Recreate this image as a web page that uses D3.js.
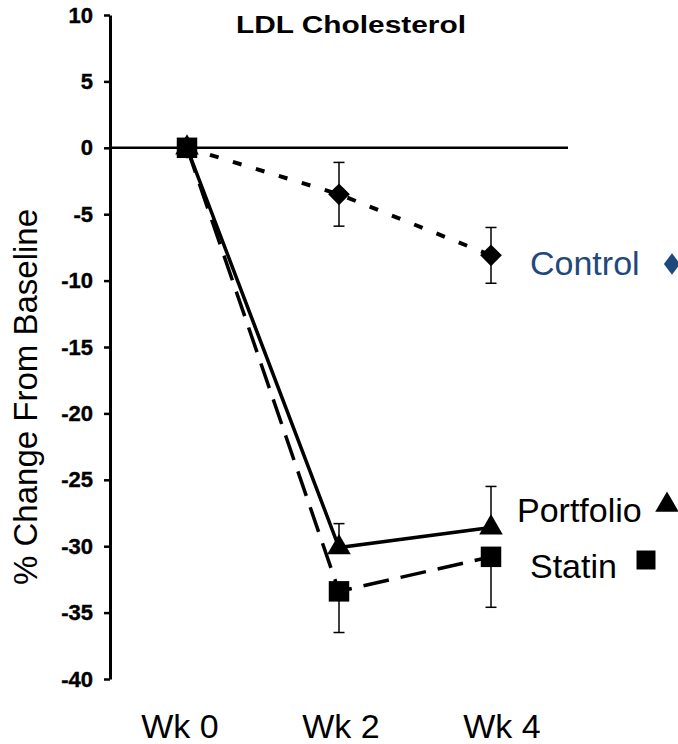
<!DOCTYPE html>
<html lang="en">
<head>
<meta charset="UTF-8">
<title>LDL Cholesterol</title>
<script src="https://cdn.jsdelivr.net/npm/d3@7"></script>
<style>
  body { margin: 0; background: #fff; }
  svg { display: block; font-family: "Liberation Sans", Arial, sans-serif; }
</style>
</head>
<body>
<div id="chart"></div>
<script>
// data
const weeks = ["Wk 0", "Wk 2", "Wk 4"];
const yTicks = [10, 5, 0, -5, -10, -15, -20, -25, -30, -35, -40];

const controlValues = [0, -3.5, -8.1];
const controlErr = [0, 2.4, 2.1];
const portfolioValues = [0, -30.1, -28.6];
const portfolioErr = [0, 1.8, 3.1];
const statinValues = [0, -33.4, -30.8];
const statinErr = [0, 3.1, 3.8];

const width = 678, height = 744;

const svg = d3.select("#chart").append("svg")
    .attr("width", width)
    .attr("height", height);

const x = d3.scalePoint().domain(weeks).range([187, 491]);
const xLabel = d3.scalePoint().domain(weeks).range([180, 502]);
const y = d3.scaleLinear().domain([-40, 10]).range([679, 15]);

// y axis, plain hyphen for negatives like the original
const yAxis = svg.append("g")
    .attr("transform", "translate(110,0)")
    .call(d3.axisLeft(y)
        .tickValues(yTicks)
        .tickFormat(d => String(d))
        .tickSize(6).tickSizeOuter(0).tickPadding(11));
yAxis.select(".domain").attr("stroke", "#000").attr("stroke-width", 3);
yAxis.selectAll(".tick line").attr("stroke", "#000").attr("stroke-width", 2.5);
yAxis.selectAll(".tick text")
    .attr("font-size", 22)
    .attr("font-weight", "bold")
    .attr("font-family", "'Liberation Sans', Arial, sans-serif")
    .attr("fill", "#000")
    .attr("stroke", "#000")
    .attr("stroke-width", 0.4);

// zero line
svg.append("line")
    .attr("x1", 110).attr("x2", 568)
    .attr("y1", y(0)).attr("y2", y(0))
    .attr("stroke", "#000").attr("stroke-width", 2.5);

// x labels
svg.selectAll("text.wk")
    .data(weeks)
    .join("text")
    .attr("class", "wk")
    .attr("x", d => xLabel(d))
    .attr("y", 738)
    .attr("text-anchor", "middle")
    .attr("font-size", 34)
    .text(d => d);

// y title
svg.append("text")
    .attr("transform", "translate(37,397) rotate(-90)")
    .attr("text-anchor", "middle")
    .attr("font-size", 33)
    .text("% Change From Baseline");

// chart title
svg.append("text")
    .attr("x", 351)
    .attr("y", 33)
    .attr("text-anchor", "middle")
    .attr("font-size", 23)
    .attr("font-weight", "bold")
    .attr("textLength", 230)
    .attr("lengthAdjust", "spacingAndGlyphs")
    .text("LDL Cholesterol");

const series = [
  {name: "Control", values: controlValues, err: controlErr, dir: "both", dash: "9,15", sw: 4, symbol: d3.symbolDiamond2, size: 300},
  {name: "Portfolio", values: portfolioValues, err: portfolioErr, dir: "up", dash: null, sw: 3.5, symbol: d3.symbolTriangle, size: 240},
  {name: "Statin", values: statinValues, err: statinErr, dir: "down", dash: "26,12", sw: 3.5, symbol: d3.symbolSquare, size: 420}
];

const line = d3.line()
    .x((d, i) => x(weeks[i]))
    .y(d => y(d));

series.forEach(s => {
  svg.append("path")
      .datum(s.values)
      .attr("d", line)
      .attr("fill", "none")
      .attr("stroke", "#000")
      .attr("stroke-width", s.sw)
      .attr("stroke-dasharray", s.dash);
});

// error bars (skip baseline)
series.forEach(s => {
  s.values.forEach((v, i) => {
    if (!s.err[i]) return;
    const cx = x(weeks[i]);
    const top = s.dir === "down" ? v : v + s.err[i];
    const bot = s.dir === "up" ? v : v - s.err[i];
    const g = svg.append("g").attr("stroke", "#000").attr("stroke-width", 1.5);
    g.append("line").attr("x1", cx).attr("x2", cx).attr("y1", y(top)).attr("y2", y(bot));
    if (s.dir !== "down")
      g.append("line").attr("x1", cx - 5.5).attr("x2", cx + 5.5).attr("y1", y(top)).attr("y2", y(top));
    if (s.dir !== "up")
      g.append("line").attr("x1", cx - 5.5).attr("x2", cx + 5.5).attr("y1", y(bot)).attr("y2", y(bot));
  });
});

// markers
series.forEach(s => {
  svg.selectAll(null)
      .data(s.values)
      .join("path")
      .attr("transform", (d, i) => `translate(${x(weeks[i])},${y(d)})`)
      .attr("d", d3.symbol().type(s.symbol).size(s.size))
      .attr("fill", "#000");
});

// legend labels
const legend = [
  {text: "Control", x: 530, y: 275, color: "#1F497D", symbol: d3.symbolDiamond2, size: 300, sx: 672, sy: 264, scale: "scale(0.75,1)"},
  {text: "Portfolio", x: 517, y: 522, color: "#000", symbol: d3.symbolTriangle, size: 240, sx: 667, sy: 505, scale: ""},
  {text: "Statin", x: 530, y: 578, color: "#000", symbol: d3.symbolSquare, size: 360, sx: 646, sy: 560, scale: ""}
];
legend.forEach(l => {
  svg.append("text")
      .attr("x", l.x).attr("y", l.y)
      .attr("font-size", 34)
      .attr("fill", l.color)
      .text(l.text);
  svg.append("path")
      .attr("transform", `translate(${l.sx},${l.sy}) ${l.scale}`)
      .attr("d", d3.symbol().type(l.symbol).size(l.size))
      .attr("fill", l.color);
});
</script>
</body>
</html>
